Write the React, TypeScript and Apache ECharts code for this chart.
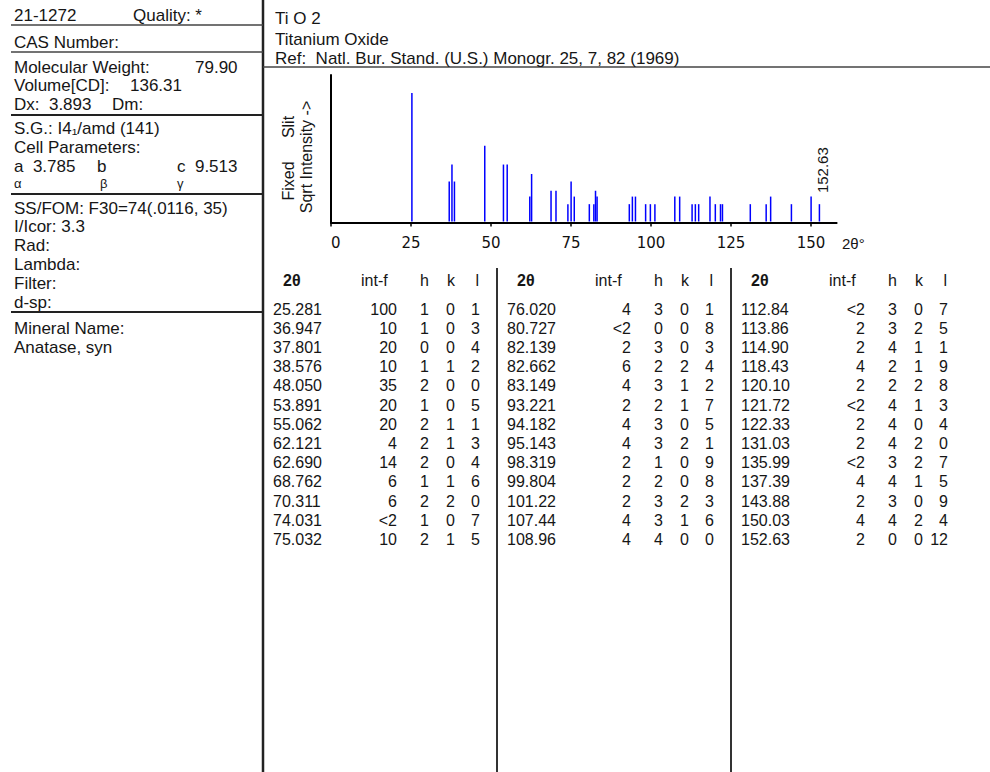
import React, { useEffect, useRef } from "react";
import * as echarts from "echarts";

// ---- card data ----
const cardNumber = "21-1272";
const quality = "Quality: *";
const formula = "Ti O 2";
const compoundName = "Titanium Oxide";
const reference = "Ref:  Natl. Bur. Stand. (U.S.) Monogr. 25, 7, 82 (1969)";

const leftRows1 = ["CAS Number:"];
const molWeight = "79.90";
const volumeCD = "136.31";
const dx = "3.893";
const spaceGroup = "S.G.: I4\u2081/amd (141)";
const cellA = "3.785";
const cellC = "9.513";
const leftRows2 = ["SS/FOM: F30=74(.0116, 35)", "I/Icor: 3.3", "Rad:", "Lambda:", "Filter:", "d-sp:"];
const mineral = ["Mineral Name:", "Anatase, syn"];

// ---- reflections ----
const twoTheta = [
  "25.281", "36.947", "37.801", "38.576", "48.050", "53.891", "55.062", "62.121", "62.690", "68.762", "70.311", "74.031", "75.032",
  "76.020", "80.727", "82.139", "82.662", "83.149", "93.221", "94.182", "95.143", "98.319", "99.804", "101.22", "107.44", "108.96",
  "112.84", "113.86", "114.90", "118.43", "120.10", "121.72", "122.33", "131.03", "135.99", "137.39", "143.88", "150.03", "152.63",
];
const intF = [
  "100", "10", "20", "10", "35", "20", "20", "4", "14", "6", "6", "<2", "10",
  "4", "<2", "2", "6", "4", "2", "4", "4", "2", "2", "2", "4", "4",
  "<2", "2", "2", "4", "2", "<2", "2", "2", "<2", "4", "2", "4", "2",
];
const hIdx = [1, 1, 0, 1, 2, 1, 2, 2, 2, 1, 2, 1, 2, 3, 0, 3, 2, 3, 2, 3, 3, 1, 2, 3, 3, 4, 3, 3, 4, 2, 2, 4, 4, 4, 3, 4, 3, 4, 0];
const kIdx = [0, 0, 0, 1, 0, 0, 1, 1, 0, 1, 2, 0, 1, 0, 0, 0, 2, 1, 1, 0, 2, 0, 0, 2, 1, 0, 0, 2, 1, 1, 2, 1, 0, 2, 2, 1, 0, 2, 0];
const lIdx = [1, 3, 4, 2, 0, 5, 1, 3, 4, 6, 0, 7, 5, 1, 8, 3, 4, 2, 7, 5, 1, 9, 8, 3, 6, 0, 7, 5, 1, 9, 8, 3, 4, 0, 7, 5, 9, 4, 12];

const xTicks = [0, 25, 50, 75, 100, 125, 150];
const tableHeaders = ["2\u03b8", "int-f", "h", "k", "l"];

const FONT = '"Liberation Sans", Arial, sans-serif';
const INK = "#161616";

function txt(text: string, x: number, y: number, size = 17, align = "left", extra: any = {}, weight = "normal") {
  return {
    type: "text",
    x,
    y,
    silent: true,
    ...extra,
    style: {
      text,
      fill: INK,
      font: `${weight} ${size}px ${FONT}`,
      align,
      textAlign: align,
      verticalAlign: "middle",
      textVerticalAlign: "middle",
    },
  };
}

function hline(y: number, x1: number, x2: number, w = 1.5, c = "#333") {
  return { type: "line", silent: true, shape: { x1, y1: y, x2, y2: y }, style: { stroke: c, lineWidth: w } };
}
function vline(x: number, y1: number, y2: number, w = 2, c = "#333") {
  return { type: "line", silent: true, shape: { x1: x, y1, x2: x, y2 }, style: { stroke: c, lineWidth: w } };
}

export default function App() {
  const ref = useRef<HTMLDivElement>(null);

  useEffect(() => {
    const chart = echarts.init(ref.current!, null, { renderer: "svg" });

    const g: any[] = [];
    // frame lines
    g.push(vline(263, 0, 772, 2.5, "#222"));
    g.push(hline(67, 263, 990, 1.5, "#444"));
    g.push(vline(497, 268, 772, 2, "#333"));
    g.push(vline(731, 268, 772, 2, "#333"));

    // left panel
    const LX = 14;
    g.push(txt(cardNumber, LX, 15));
    g.push(txt(quality, 133, 15));
    g.push(hline(25, 11, 263, 1.5, "#444"));
    g.push(txt(leftRows1[0], LX, 42));
    g.push(hline(52, 11, 263, 1.5, "#444"));
    g.push(txt("Molecular Weight:", LX, 67));
    g.push(txt(molWeight, 195, 67));
    g.push(txt("Volume[CD]:", LX, 85));
    g.push(txt(volumeCD, 130, 85));
    g.push(txt("Dx:  " + dx, LX, 104));
    g.push(txt("Dm:", 112, 104));
    g.push(hline(115, 11, 263, 2, "#222"));
    g.push(txt(spaceGroup, LX, 128));
    g.push(txt("Cell Parameters:", LX, 147));
    g.push(txt("a  " + cellA, LX, 166));
    g.push(txt("b", 97, 166));
    g.push(txt("c  " + cellC, 177, 166));
    g.push(txt("\u03b1", LX, 183, 13));
    g.push(txt("\u03b2", 100, 183, 13));
    g.push(txt("\u03b3", 177, 183, 13));
    g.push(hline(194, 11, 263, 2, "#222"));
    leftRows2.forEach((s, i) => g.push(txt(s, LX, 208 + i * 18.8)));
    g.push(hline(312, 11, 263, 2, "#222"));
    g.push(txt(mineral[0], LX, 328));
    g.push(txt(mineral[1], LX, 347));

    // header
    g.push(txt(formula, 275, 18));
    g.push(txt(compoundName, 275, 39));
    g.push(txt(reference, 275, 58));

    // chart labels
    g.push(txt("Fixed", 288, 181, 16, "center", { rotation: Math.PI / 2 }));
    g.push(txt("Slit", 288, 127, 16, "center", { rotation: Math.PI / 2 }));
    g.push(txt("Sqrt Intensity ->", 306, 157, 16, "center", { rotation: Math.PI / 2 }));
    g.push(txt("2\u03b8\u00b0", 842, 243, 15));

    // table
    const cols = [263, 497, 731];
    const rowsPerCol = 13;
    cols.forEach((cx) => {
      g.push(txt(tableHeaders[0], cx + 20, 280, 16, "left", {}, "bold"));
      g.push(txt(tableHeaders[1], cx + 98, 280, 16));
      g.push(txt(tableHeaders[2], cx + 166, 280, 16, "right"));
      g.push(txt(tableHeaders[3], cx + 192, 280, 16, "right"));
      g.push(txt(tableHeaders[4], cx + 216, 280, 16, "right"));
    });
    twoTheta.forEach((t, i) => {
      const cx = cols[Math.floor(i / rowsPerCol)];
      const y = 309 + (i % rowsPerCol) * 19.2;
      g.push(txt(t, cx + 10, y, 16));
      g.push(txt(intF[i], cx + 134, y, 16, "right"));
      g.push(txt(String(hIdx[i]), cx + 166, y, 16, "right"));
      g.push(txt(String(kIdx[i]), cx + 192, y, 16, "right"));
      g.push(txt(String(lIdx[i]), cx + 217, y, 16, "right"));
    });

    const data = twoTheta.map((t, i) => [Number(t), Math.sqrt(Number(intF[i].replace("<", "")))]);
    const lastIdx = twoTheta.length - 1;

    const option: any = {
      animation: false,
      backgroundColor: "#ffffff",
      grid: { left: 331, top: 75, width: 505.6, height: 147.5, containLabel: false },
      xAxis: {
        type: "value",
        min: 0,
        max: 158,
        axisLine: { show: true, lineStyle: { color: "#000", width: 2 } },
        axisTick: { show: true, length: 4, customValues: xTicks, lineStyle: { color: "#000", width: 1.5 } },
        axisLabel: {
          customValues: xTicks,
          color: "#111",
          fontSize: 15,
          fontFamily: '"DejaVu Sans", sans-serif',
          margin: 13,
          alignMinLabel: "left",
        },
        splitLine: { show: false },
      },
      yAxis: {
        type: "value",
        min: 0,
        max: 11.38,
        axisLine: { show: true, lineStyle: { color: "#000", width: 2 } },
        axisTick: { show: false },
        axisLabel: { show: false },
        splitLine: { show: false },
      },
      series: [
        {
          type: "custom",
          silent: true,
          encode: { x: 0, y: 1 },
          data,
          renderItem: (params: any, api: any) => {
            const xv = api.value(0);
            const yv = api.value(1);
            const p0 = api.coord([xv, 0]);
            const p1 = api.coord([xv, yv]);
            const bar = {
              type: "line",
              shape: { x1: p0[0], y1: p0[1] - 1, x2: p1[0], y2: p1[1] },
              style: { stroke: "#0000ff", lineWidth: 1.5 },
            };
            if (params.dataIndex === lastIdx) {
              return {
                type: "group",
                children: [
                  bar,
                  {
                    type: "text",
                    x: p1[0] + 3,
                    y: p1[1] - 34,
                    rotation: Math.PI / 2,
                    style: {
                      text: twoTheta[lastIdx],
                      fill: INK,
                      font: `15px ${FONT}`,
                      align: "center",
                      textAlign: "center",
                      verticalAlign: "middle",
                      textVerticalAlign: "middle",
                    },
                  },
                ],
              };
            }
            return bar;
          },
        },
      ],
      graphic: { elements: g },
    };

    chart.setOption(option);
    return () => chart.dispose();
  }, []);

  return (
    <div
      ref={ref}
      style={{ position: "absolute", left: 0, top: 0, width: 990, height: 772, background: "#fff" }}
    />
  );
}
